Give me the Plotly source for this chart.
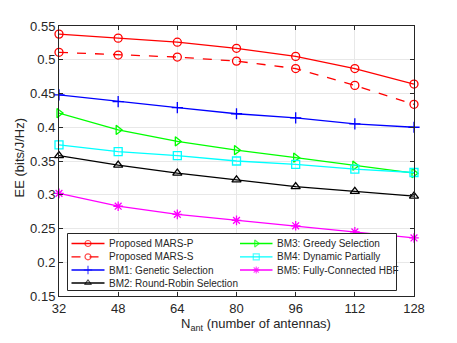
import plotly.graph_objects as go

# ---------------------------------------------------------------------------
# data
# ---------------------------------------------------------------------------
n_ant = [32, 48, 64, 80, 96, 112, 128]

ee_mars_p = [0.538, 0.532, 0.526, 0.517, 0.505, 0.487, 0.464]
ee_mars_s = [0.511, 0.507, 0.504, 0.498, 0.487, 0.462, 0.434]
ee_bm1 = [0.448, 0.438, 0.429, 0.420, 0.414, 0.405, 0.400]
ee_bm2 = [0.358, 0.344, 0.332, 0.322, 0.312, 0.305, 0.298]
ee_bm3 = [0.421, 0.396, 0.379, 0.366, 0.355, 0.343, 0.332]
ee_bm4 = [0.374, 0.364, 0.358, 0.350, 0.345, 0.338, 0.333]
ee_bm5 = [0.302, 0.283, 0.271, 0.262, 0.254, 0.245, 0.236]

y_ticks = [0.15, 0.2, 0.25, 0.3, 0.35, 0.4, 0.45, 0.5, 0.55]
y_ticktext = ['0.15', '0.2', '0.25', '0.3', '0.35', '0.4', '0.45', '0.5', '0.55']

series = [
    # name, values, colour, symbol, dash
    ('Proposed MARS-P', ee_mars_p, '#ff0000', 'circle-open', 'solid'),
    ('Proposed MARS-S', ee_mars_s, '#ff0000', 'circle-open', 'dash'),
    ('BM1: Genetic Selection', ee_bm1, '#0000ff', 'cross-thin-open', 'solid'),
    ('BM2: Round-Robin Selection', ee_bm2, '#000000', 'triangle-up-open', 'solid'),
    ('BM3: Greedy Selection', ee_bm3, '#00ff00', 'triangle-right-open', 'solid'),
    ('BM4: Dynamic Partially', ee_bm4, '#00ffff', 'square-open', 'solid'),
    ('BM5: Fully-Connected HBF', ee_bm5, '#ff00ff', 'asterisk-open', 'solid'),
]

W, H = 457, 343
ML, MR, MT, MB = 59, 43, 26, 47
AXC = '#262626'
FONT = 'Liberation Sans, Arial, sans-serif'

fig = go.Figure()

for name, vals, col, sym, dash in series:
    fig.add_trace(go.Scatter(
        x=n_ant, y=vals, name=name, mode='lines+markers',
        line=dict(color=col, width=1.3, dash=dash),
        marker=dict(symbol=sym, size=8, color=col,
                    line=dict(color=col, width=1.3)),
        showlegend=False, cliponaxis=False,
    ))

###############################################################################
# MATLAB-like legend (plotly's own legend rows are too tall here), drawn on an
# overlay axis measured in figure pixels
# ---------------------------------------------------------------------------
box = dict(x0=67.5, x1=396.5, y0=233.5, y1=290.5)
fig.add_trace(go.Scatter(
    x=[box['x0'], box['x1'], box['x1'], box['x0'], box['x0']],
    y=[box['y0'], box['y0'], box['y1'], box['y1'], box['y0']],
    mode='lines', fill='toself', fillcolor='white',
    line=dict(color=AXC, width=1), xaxis='x2', yaxis='y2',
    showlegend=False, hoverinfo='skip',
))

cols = [dict(x0=71.5, x1=104.5, text=107), dict(x0=240, x1=272.5, text=275)]
rows = [243.5, 256.8, 270, 283]
for i, (name, vals, col, sym, dash) in enumerate(series):
    c = cols[0] if i < 4 else cols[1]
    ry = rows[i if i < 4 else i - 4]
    xm = (c['x0'] + c['x1']) / 2
    fig.add_trace(go.Scatter(
        x=[c['x0'], xm, c['x1']], y=[ry, ry, ry], mode='lines+markers',
        line=dict(color=col, width=1.3, dash=dash),
        marker=dict(symbol=sym, size=[0, 6, 0], color=col,
                    line=dict(color=col, width=1.2)),
        xaxis='x2', yaxis='y2', showlegend=False, hoverinfo='skip',
    ))
    fig.add_annotation(
        x=c['text'], y=ry, xref='x2', yref='y2', text=name,
        showarrow=False, xanchor='left', yanchor='middle',
        font=dict(size=10, color=AXC, family=FONT),
    )

# axis labels, placed where MATLAB put them
fig.add_annotation(
    x=0.555, y=-0.105, xref='paper', yref='paper',
    text='N<sub>ant</sub> (number of antennas)', showarrow=False,
    xanchor='center', yanchor='middle',
    font=dict(size=13, color=AXC, family=FONT),
)
fig.add_annotation(
    x=-0.11, y=0.513, xref='paper', yref='paper',
    text='EE (bits/J/Hz)', showarrow=False, textangle=-90,
    xanchor='center', yanchor='middle',
    font=dict(size=13, color=AXC, family=FONT),
)

axis_common = dict(
    showline=True, linecolor=AXC, linewidth=1, mirror='ticks',
    ticks='inside', ticklen=4, tickcolor=AXC, tickwidth=1,
    showgrid=True, gridcolor='#e8e8e8', gridwidth=1, zeroline=False,
    tickfont=dict(size=13, color=AXC, family=FONT), automargin=False,
)

fig.update_layout(
    width=W, height=H,
    margin=dict(l=ML, r=MR, t=MT, b=MB),
    paper_bgcolor='white', plot_bgcolor='white',
    font=dict(family=FONT, color=AXC),
    xaxis=dict(range=[32, 128], tickvals=n_ant, **axis_common),
    yaxis=dict(range=[0.15, 0.55], tickvals=y_ticks, ticktext=y_ticktext,
               **axis_common),
    xaxis2=dict(overlaying='x', range=[ML, W - MR], visible=False,
                fixedrange=True),
    yaxis2=dict(overlaying='y', range=[H - MB, MT], visible=False,
                fixedrange=True),
    showlegend=False,
)

# drop the browser's default body margin so the figure sits at (0, 0)
fig.write_html('out.html', config=dict(displayModeBar=False),
               post_script="document.body.style.margin='0';"
                           "document.body.style.overflow='hidden';")
